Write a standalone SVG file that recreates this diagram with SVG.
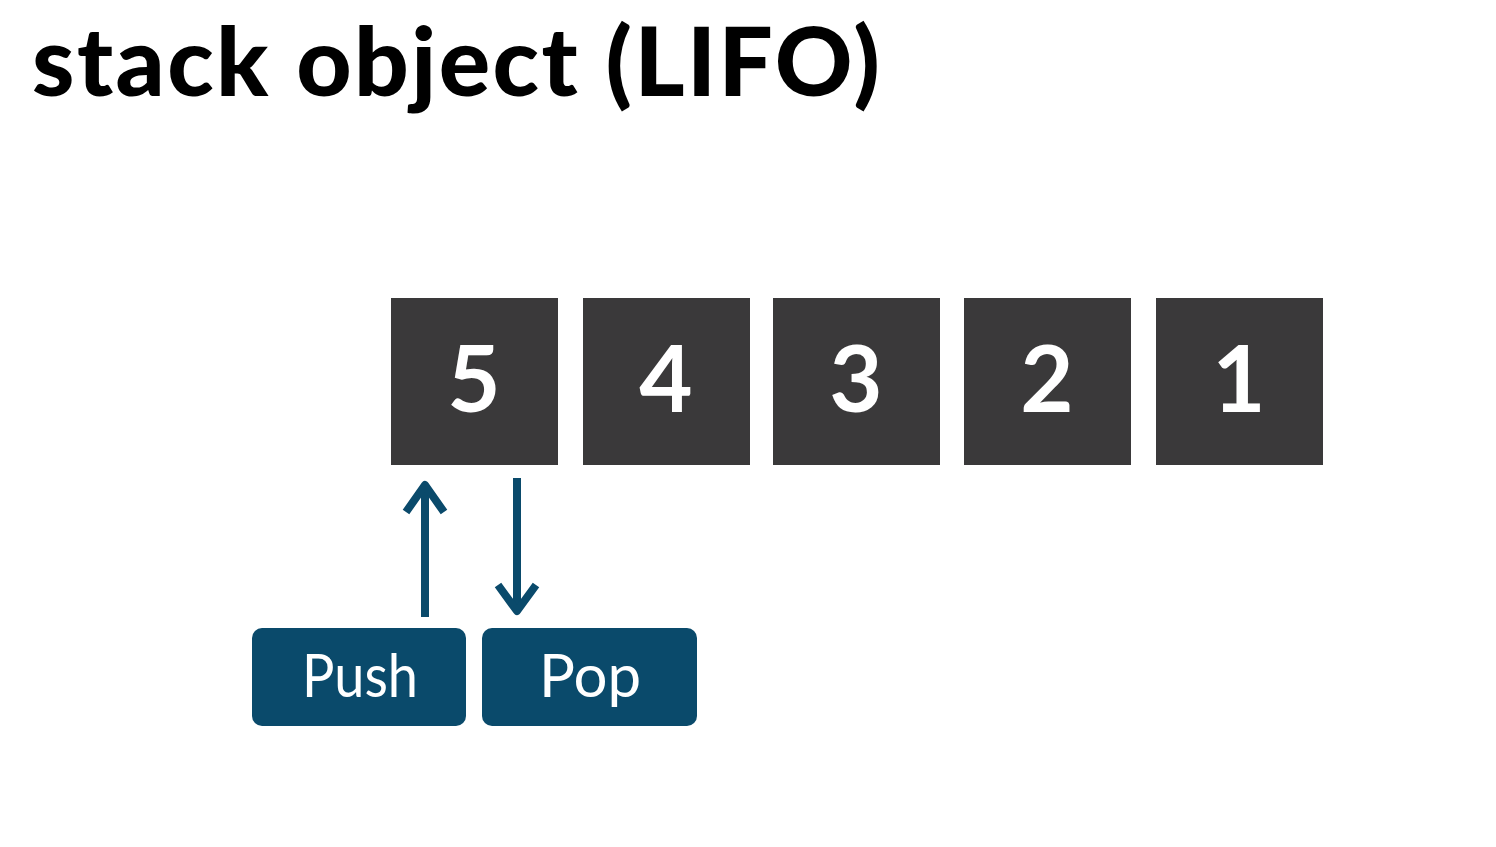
<svg xmlns="http://www.w3.org/2000/svg" width="1496" height="847" viewBox="0 0 1496 847">
<style>
.title{font-family:Lato,"Liberation Sans",sans-serif;font-weight:900;font-size:96px;fill:#000}
.box{fill:#3a393a}
.num{font-family:Lato,"Liberation Sans",sans-serif;font-weight:700;font-size:92px;fill:#fff;text-anchor:middle}
.btn{fill:#0a4a6b}
.btxt{font-family:Lato,"Liberation Sans",sans-serif;font-weight:400;font-size:60px;fill:#fff;text-anchor:middle}
.arr{stroke:#0a4a6b;stroke-width:8;fill:none}
</style>
<rect width="1496" height="847" fill="#fff"/>
<text class="title" x="32" y="96" textLength="848" lengthAdjust="spacing">stack object (LIFO)</text>
<g id="n5"><rect class="box" x="391" y="298" width="167" height="167"/><text class="num" x="474" y="412">5</text></g>
<g id="n4"><rect class="box" x="583" y="298" width="167" height="167"/><text class="num" x="666" y="412">4</text></g>
<g id="n3"><rect class="box" x="773" y="298" width="167" height="167"/><text class="num" x="856" y="412">3</text></g>
<g id="n2"><rect class="box" x="964" y="298" width="167" height="167"/><text class="num" x="1047" y="412">2</text></g>
<g id="n1"><rect class="box" x="1156" y="298" width="167" height="167"/><text class="num" x="1239" y="412">1</text></g>
<g id="push"><rect class="btn" x="252" y="628" width="214" height="98" rx="10"/><text class="btxt" x="360" y="697" textLength="116" lengthAdjust="spacingAndGlyphs">Push</text></g>
<g id="pop"><rect class="btn" x="482" y="628" width="215" height="98" rx="10"/><text class="btxt" x="590" y="697">Pop</text></g>
<g id="connectors">
<path class="arr" d="M425 617 V484"/>
<path class="arr" d="M406 512 L425 485 L444 512" stroke-linejoin="round"/>
<path class="arr" d="M517 478 V612"/>
<path class="arr" d="M498 585 L517 611 L536 585" stroke-linejoin="round"/>
</g>
</svg>
